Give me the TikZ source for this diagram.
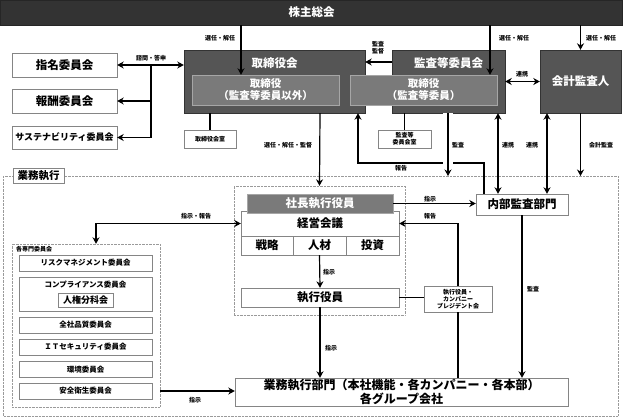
\documentclass[tikz,border=0pt]{standalone}
\usepackage{fontspec}
\setmainfont{Noto Sans CJK JP}
\usetikzlibrary{arrows.meta}
\definecolor{barcol}{HTML}{333333}
\definecolor{darkcol}{HTML}{555555}
\definecolor{midcol}{HTML}{7A7A7A}
\definecolor{edgecol}{HTML}{858585}
\definecolor{dotcol}{HTML}{9A9A9A}
\tikzset{
  bar/.style={fill=barcol,draw=black!85,text=white,inner sep=0pt},
  darkbox/.style={fill=darkcol,draw=barcol,text=white,inner sep=0pt},
  midbox/.style={fill=midcol,draw=black!35,text=white,inner sep=0pt,align=center},
  wbox/.style={draw=edgecol,fill=white,inner sep=0pt,align=center},
  grp/.style={draw=dotcol,densely dotted,inner sep=0pt},
  big/.style={font=\fontsize{11.5}{13}\selectfont\bfseries},
  item/.style={font=\fontsize{7.5}{9}\selectfont\bfseries},
  lbl/.style={font=\fontsize{6}{7}\selectfont\bfseries,inner sep=0pt,align=center},
  arr/.style={line width=1.2pt,-{Stealth[length=6.5pt,width=7pt]}},
  arrb/.style={line width=1.2pt,{Stealth[length=6.5pt,width=7pt]}-{Stealth[length=6.5pt,width=7pt]}},
  ln/.style={line width=1.2pt},
}
\begin{document}
\begin{tikzpicture}[x=1pt,y=-1pt]
  \fill[white] (0,0) rectangle (623,418);
  \useasboundingbox (0,0) rectangle (623,418);

  \node[bar,big,minimum width=622pt,minimum height=25pt] (share) at (311.5,12.5) {株主総会};

  \node[wbox,big,minimum width=105pt,minimum height=24pt] (nom) at (64.5,65) {指名委員会};
  \node[wbox,big,minimum width=105pt,minimum height=24pt] (rem) at (64.5,101) {報酬委員会};
  \node[wbox,font=\fontsize{9}{10}\selectfont\bfseries,minimum width=105pt,minimum height=23pt] (sus) at (64.5,137.5) {サステナビリティ委員会};

  \node[darkbox,minimum width=181pt,minimum height=63pt] (bod) at (274.5,81.5) {};
  \node[darkbox,minimum width=113pt,minimum height=63pt] (ac) at (448.5,81.5) {};
  \node[darkbox,big,minimum width=81pt,minimum height=63pt] (aud) at (580.5,81.5) {会計監査人};
  \node[text=white,big,inner sep=0pt] (bodt) at (274.5,63) {取締役会};
  \node[text=white,big,inner sep=0pt] (act) at (448.5,63) {監査等委員会};
  \node[midbox,font=\fontsize{10.5}{12}\selectfont\bfseries,minimum width=147pt,minimum height=30pt] (dir) at (265.5,90) {取締役\\（監査等委員以外）};
  \node[midbox,font=\fontsize{10.5}{12}\selectfont\bfseries,minimum width=147pt,minimum height=30pt] (acd) at (423.5,90) {取締役\\（監査等委員）};

  \node[wbox,lbl,minimum width=52pt,minimum height=18pt] (bodr) at (210,139) {取締役会室};
  \node[wbox,lbl,minimum width=53pt,minimum height=18pt] (acr) at (404.5,139) {監査等\\委員会室};

  \draw[grp] (3,176) rectangle (618,416);
  \coordinate (ftop) at (0,176);
  \node[wbox,font=\fontsize{10.5}{12}\selectfont\bfseries,minimum width=51pt,minimum height=15pt] (gyomu) at (38.5,175.5) {業務執行};

  \node[grp,minimum width=171pt,minimum height=129pt] (egrp) at (319.5,250.5) {};
  \node[wbox,big,minimum width=158pt,minimum height=25pt] (mtg) at (320,223.5) {経営会議};
  \node[midbox,big,minimum width=146pt,minimum height=19pt] (pres) at (320,203.5) {社長執行役員};
  \node[wbox,big,minimum width=52pt,minimum height=19pt] (c1) at (267,245.5) {戦略};
  \node[wbox,big,minimum width=53pt,minimum height=19pt] (c2) at (319.5,245.5) {人材};
  \node[wbox,big,minimum width=53pt,minimum height=19pt] (c3) at (372.5,245.5) {投資};
  \node[wbox,big,minimum width=158pt,minimum height=19pt] (off) at (320,297.5) {執行役員};

  \node[wbox,big,minimum width=92pt,minimum height=21pt] (ia) at (522,204.5) {内部監査部門};
  \node[wbox,lbl,minimum width=68pt,minimum height=26pt] (cp) at (458,299) {執行役員・\\カンパニー\\プレジデント会};
  \node[wbox,font=\fontsize{12}{13.5}\selectfont\bfseries,minimum width=333pt,minimum height=28pt] (biz) at (401.5,392) {業務執行部門（本社機能・各カンパニー・各本部）\\各グループ会社};

  \node[grp,minimum width=148pt,minimum height=163pt] (com) at (86,325.5) {};
  \node[lbl,anchor=west] (comt) at (16,249) {各専門委員会};
  \node[wbox,item,minimum width=133pt,minimum height=16pt] (risk) at (85.5,263) {リスクマネジメント委員会};
  \node[wbox,minimum width=133pt,minimum height=34pt] (comp) at (85.5,294) {};
  \node[item,inner sep=0pt] (compt) at (85.5,284.5) {コンプライアンス委員会};
  \node[wbox,font=\fontsize{9}{10}\selectfont\bfseries,minimum width=55pt,minimum height=14pt] (hr) at (85.5,300) {人権分科会};
  \node[wbox,item,minimum width=133pt,minimum height=16pt] (qual) at (85.5,325) {全社品質委員会};
  \node[wbox,item,minimum width=133pt,minimum height=16pt] (itc) at (85.5,347) {ＩＴセキュリティ委員会};
  \node[wbox,item,minimum width=133pt,minimum height=16pt] (env) at (85.5,369.5) {環境委員会};
  \node[wbox,item,minimum width=133pt,minimum height=16pt] (safe) at (85.5,391) {安全衛生委員会};

  \draw[arr] (241,0 |- share.south) -- (241,0 |- dir.north);
  \draw[arr] (490,0 |- share.south) -- (490,0 |- acd.north);
  \draw[arr] (aud.north |- share.south) -- (aud.north);
  \draw[arrb] (nom.east) -- (bod.west |- nom.east);
  \draw[ln] (151,0 |- nom.east) -- (151,0 |- sus.east);
  \draw[arr] (151,0 |- rem.east) -- (rem.east);
  \draw[arr] (151,0 |- sus.east) -- (sus.east);
  \draw[arr] (ac.west |- 0,62) -- (bod.east |- 0,62);
  \draw[ln] (bodr.north |- bod.south) -- (bodr.north);
  \draw[ln] (acr.north |- ac.south) -- (acr.north);
  \draw[arrb] (ac.east) -- (aud.west);
  \draw[arr] (pres.north |- bod.south) -- (egrp.north);
  \draw[arr] (484,0 |- ia.north) |- (358,163) -- (358,0 |- bod.south);
  \draw[arr,preaction={draw=white,line width=10pt,-}] (448,0 |- ac.south) -- (448,0 |- ftop);
  \draw[arrb] (498,0 |- ac.south) -- (498,0 |- ia.north);
  \draw[arrb] (547,0 |- aud.south) -- (547,0 |- ia.north);
  \draw[arr] (aud.south) -- (aud.south |- ftop);
  \draw[arr] (pres.east) -- (ia.west |- pres.east);
  \draw[arr] (cp.north) |- (mtg.east);
  \draw[arrb] (96,0 |- com.north) |- (mtg.west);
  \draw[arr] (c2.south) -- (off.north);
  \draw[ln] (off.east) -- (cp.west |- off.east);
  \draw[arr] (off.south) -- (off.south |- biz.north);
  \draw[ln] (cp.south) -- (cp.south |- biz.north);
  \draw[arr] (ia.south) -- (ia.south |- biz.north);
  \draw[arr] (com.east |- safe.east) -- (biz.west |- safe.east);

  \node[lbl] (l1) at (220,38) {選任・解任};
  \node[lbl] (l2) at (514,38) {選任・解任};
  \node[lbl] (l3) at (601,38) {選任・解任};
  \node[lbl] (l4) at (151,58) {諮問・答申};
  \node[lbl] (l5) at (378,48) {監査\\監督};
  \node[lbl] (l6) at (522,74) {連携};
  \node[lbl] (l7) at (288,145) {選任・解任・監督};
  \node[lbl] (l8) at (401,168) {報告};
  \node[lbl] (l9) at (458,145) {監査};
  \node[lbl] (l10) at (508,145) {連携};
  \node[lbl] (l11) at (532,145) {連携};
  \node[lbl] (l12) at (601,145) {会計監査};
  \node[lbl] (l13) at (430,199) {指示};
  \node[lbl] (l14) at (430,216) {報告};
  \node[lbl] (l15) at (196,216) {指示・報告};
  \node[lbl] (l16) at (329,272) {指示};
  \node[lbl] (l17) at (331,348) {指示};
  \node[lbl] (l18) at (533,289) {監査};
  \node[lbl] (l19) at (195,400) {指示};
\end{tikzpicture}
\end{document}
